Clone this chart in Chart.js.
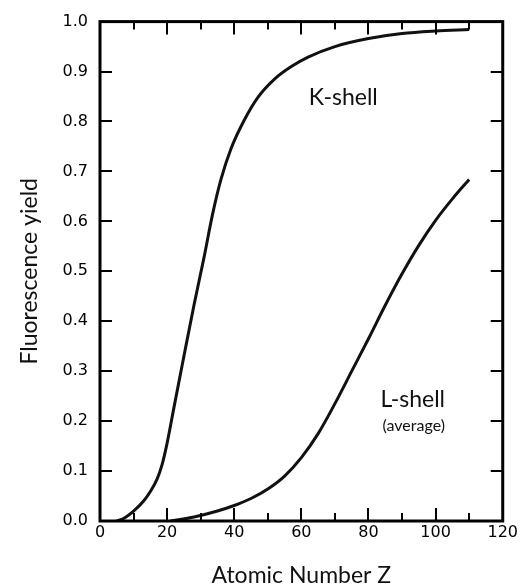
<!DOCTYPE html>
<html>
<head>
<meta charset="utf-8">
<script src="https://cdn.jsdelivr.net/npm/chart.js@4"></script>
<style>
  body { margin: 0; background: #fff; }
  #wrap { width: 520px; height: 585px; }
</style>
</head>
<body>
<div id="wrap"><canvas id="yieldChart" width="520" height="585"></canvas></div>
<script>
// atomic number Z and fluorescence yield
const kShellZ = [5, 7, 10, 13, 15, 17, 18.5, 20, 22, 25, 28, 31, 33.5, 36, 39, 43, 47, 52, 57, 62, 70, 80, 90, 100, 110];
const kShellYield = [0.0, 0.005, 0.02, 0.04, 0.059, 0.084, 0.113, 0.156, 0.226, 0.33, 0.432, 0.528, 0.613, 0.683, 0.745, 0.803, 0.848, 0.885, 0.91, 0.929, 0.95, 0.966, 0.976, 0.981, 0.984];

const lShellZ = [21, 28, 35, 40, 45, 50, 55, 60, 65, 70, 75, 80, 85, 90, 95, 100, 105, 110];
const lShellYield = [0.0, 0.008, 0.02, 0.031, 0.045, 0.064, 0.09, 0.127, 0.175, 0.235, 0.3, 0.365, 0.432, 0.495, 0.552, 0.602, 0.645, 0.684];

const xTicks = [0, 20, 40, 60, 80, 100, 120];
const yTicks = ['0.0', '0.1', '0.2', '0.3', '0.4', '0.5', '0.6', '0.7', '0.8', '0.9', '1.0'];

// curve labels: [text, Z, yield, font size]
const curveLabels = [
  ['K-shell', 72.5, 0.848, 23],
  ['L-shell', 93.2, 0.243, 23],
  ['(average)', 93.5, 0.19, 16]
];

function toPoints(xs, ys) {
  return xs.map((x, i) => ({ x: x, y: ys[i] }));
}

// frame with inward ticks on all four sides, plus the curve names
const framePlugin = {
  id: 'frame',
  afterDatasetsDraw(chart) {
    const ctx = chart.ctx;
    const area = chart.chartArea;
    const xs = chart.scales.x;
    const ys = chart.scales.y;
    ctx.save();
    ctx.strokeStyle = '#000';
    ctx.lineWidth = 2;
    xs.ticks.forEach(t => {
      const px = Math.round(xs.getPixelForValue(t.value));
      const len = t.value % 20 === 0 ? 13 : 8;
      ctx.beginPath();
      ctx.moveTo(px, area.bottom);
      ctx.lineTo(px, area.bottom - len);
      ctx.moveTo(px, area.top);
      ctx.lineTo(px, area.top + len);
      ctx.stroke();
    });
    ys.ticks.forEach(t => {
      const py = Math.round(ys.getPixelForValue(t.value));
      ctx.beginPath();
      ctx.moveTo(area.left, py);
      ctx.lineTo(area.left + 12, py);
      ctx.moveTo(area.right, py);
      ctx.lineTo(area.right - 12, py);
      ctx.stroke();
    });
    ctx.lineWidth = 3;
    ctx.strokeRect(area.left, area.top, area.right - area.left, area.bottom - area.top);

    ctx.fillStyle = '#111';
    ctx.textAlign = 'center';
    ctx.textBaseline = 'middle';
    curveLabels.forEach(l => {
      ctx.font = l[3] + 'px Lato';
      ctx.fillText(l[0], xs.getPixelForValue(l[1]), ys.getPixelForValue(l[2]));
    });
    ctx.restore();
  }
};

const ctx = document.getElementById('yieldChart').getContext('2d');
new Chart(ctx, {
  type: 'line',
  data: {
    datasets: [
      {
        label: 'K-shell',
        data: toPoints(kShellZ, kShellYield),
        borderColor: '#111',
        borderWidth: 3,
        pointRadius: 0,
        cubicInterpolationMode: 'monotone'
      },
      {
        label: 'L-shell (average)',
        data: toPoints(lShellZ, lShellYield),
        borderColor: '#111',
        borderWidth: 3,
        pointRadius: 0,
        cubicInterpolationMode: 'monotone'
      }
    ]
  },
  options: {
    responsive: false,
    animation: false,
    layout: { padding: { top: 14, right: 13, bottom: 0, left: 0 } },
    plugins: { legend: { display: false }, tooltip: { enabled: false } },
    scales: {
      x: {
        type: 'linear',
        min: 0,
        max: 120,
        grid: { display: false, drawTicks: false },
        border: { display: false },
        afterFit: s => { s.height = 64; },
        ticks: {
          stepSize: 10,
          autoSkip: false,
          maxRotation: 0,
          padding: 2,
          color: '#000',
          font: { family: 'DejaVu Sans', size: 16 },
          callback: v => xTicks.includes(v) ? String(v) : ''
        },
        title: {
          display: true,
          text: 'Atomic Number Z',
          color: '#111',
          font: { family: 'Lato', size: 23, lineHeight: 0.8 },
          padding: { top: 0, bottom: 0 }
        }
      },
      y: {
        min: 0,
        max: 1,
        grid: { display: false, drawTicks: false },
        border: { display: false },
        afterFit: s => { s.width = 100; },
        ticks: {
          stepSize: 0.1,
          padding: 12,
          color: '#000',
          font: { family: 'DejaVu Sans', size: 16 },
          callback: (v, i) => yTicks[i]
        },
        title: {
          display: true,
          text: 'Fluorescence yield',
          color: '#111',
          font: { family: 'Lato', size: 23, lineHeight: 0.8 },
          padding: { top: 20, bottom: 0 }
        }
      }
    }
  },
  plugins: [framePlugin]
});
</script>
</body>
</html>
